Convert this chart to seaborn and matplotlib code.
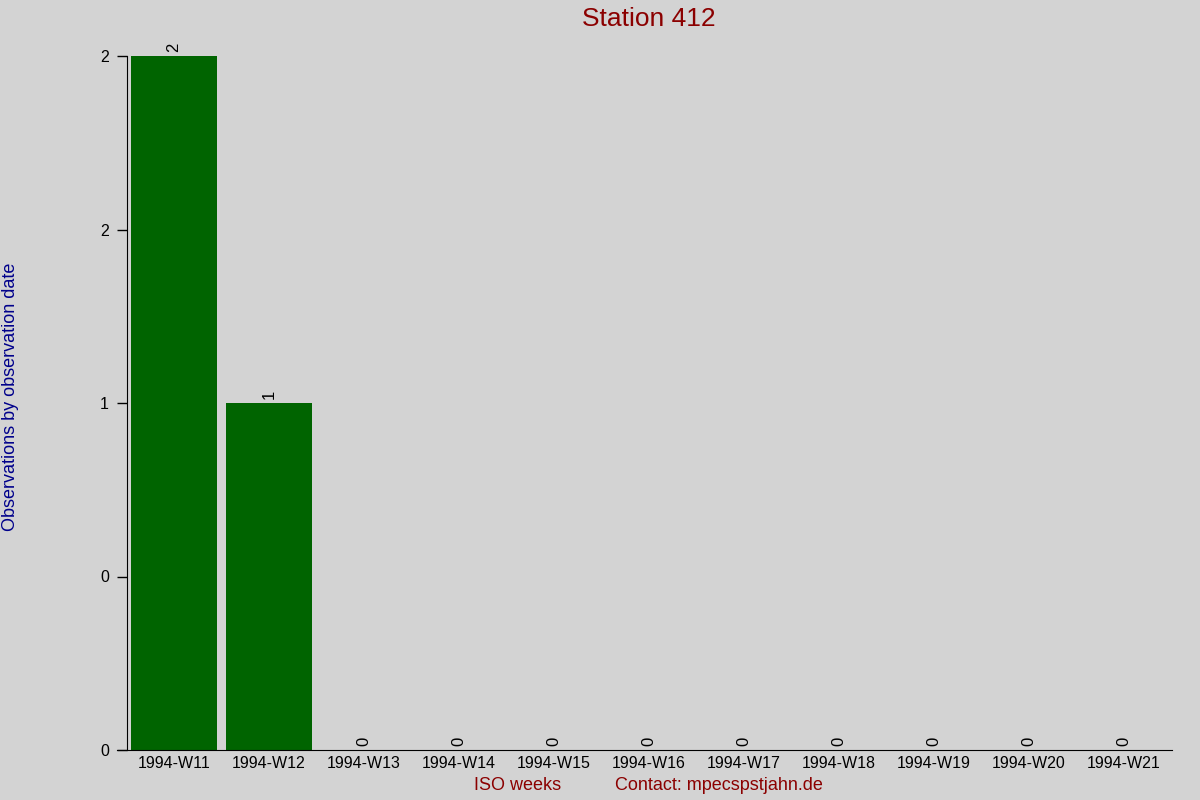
import pandas as pd
import matplotlib
matplotlib.use("Agg")
import matplotlib.pyplot as plt
from matplotlib.ticker import FuncFormatter
import seaborn as sns

# data
weeks = ["1994-W11", "1994-W12", "1994-W13", "1994-W14", "1994-W15", "1994-W16",
         "1994-W17", "1994-W18", "1994-W19", "1994-W20", "1994-W21"]
counts = [2, 1, 0, 0, 0, 0, 0, 0, 0, 0, 0]
y_ticks = [0, 0.5, 1, 1.5, 2]

bg = "#d3d3d3"

sns.set_style("ticks")
plt.rcParams["font.family"] = ["Liberation Sans", "DejaVu Sans"]

df = pd.DataFrame({"week": weeks, "count": counts})

fig = plt.figure(figsize=(12, 8), dpi=100, facecolor=bg)
ax = fig.add_axes([126.5 / 1200, 50 / 800, 1045 / 1200, 694 / 800])
ax.set_facecolor(bg)

sns.barplot(data=df, x="week", y="count", color="#006400", saturation=1,
            width=0.905, linewidth=0, ax=ax)

# labels over the bars, rotated like the original
for c in ax.containers:
    ax.bar_label(c, labels=[str(v) for v in counts], rotation=90,
                 padding=3, fontsize=12, color="black")

ax.set_xlim(-0.5, len(weeks) - 0.5)
ax.set_ylim(0, 2)
ax.set_yticks(y_ticks)
ax.yaxis.set_major_formatter(FuncFormatter(lambda v, p: f"{v:.0f}"))
ax.tick_params(axis="y", length=7.2, width=1, pad=5.5, labelsize=11.5, colors="black")
ax.tick_params(axis="x", length=0, pad=4, labelsize=11.5, colors="black")

for s in ["top", "right"]:
    ax.spines[s].set_visible(False)
ax.spines["left"].set_color("black")
ax.spines["bottom"].set_color("black")
ax.spines["bottom"].set_bounds(-0.605, len(weeks) - 0.5)
ax.set_xlabel("")
ax.set_ylabel("")

fig.text(0.541, 1 - 19 / 800, "Station 412", ha="center", va="center",
         fontsize=19, color="#8b0000")
fig.text(11 / 1200, 403 / 800, "Observations by observation date", rotation=90,
         ha="center", va="center", fontsize=13, color="#00008b")
fig.text(518 / 1200, 1 - 786 / 800, "ISO weeks", ha="center", va="center",
         fontsize=13, color="#8b0000")
fig.text(719 / 1200, 1 - 786 / 800, "Contact: mpecspstjahn.de", ha="center",
         va="center", fontsize=13, color="#8b0000")

fig.savefig("out.png", dpi=100, facecolor=bg)
